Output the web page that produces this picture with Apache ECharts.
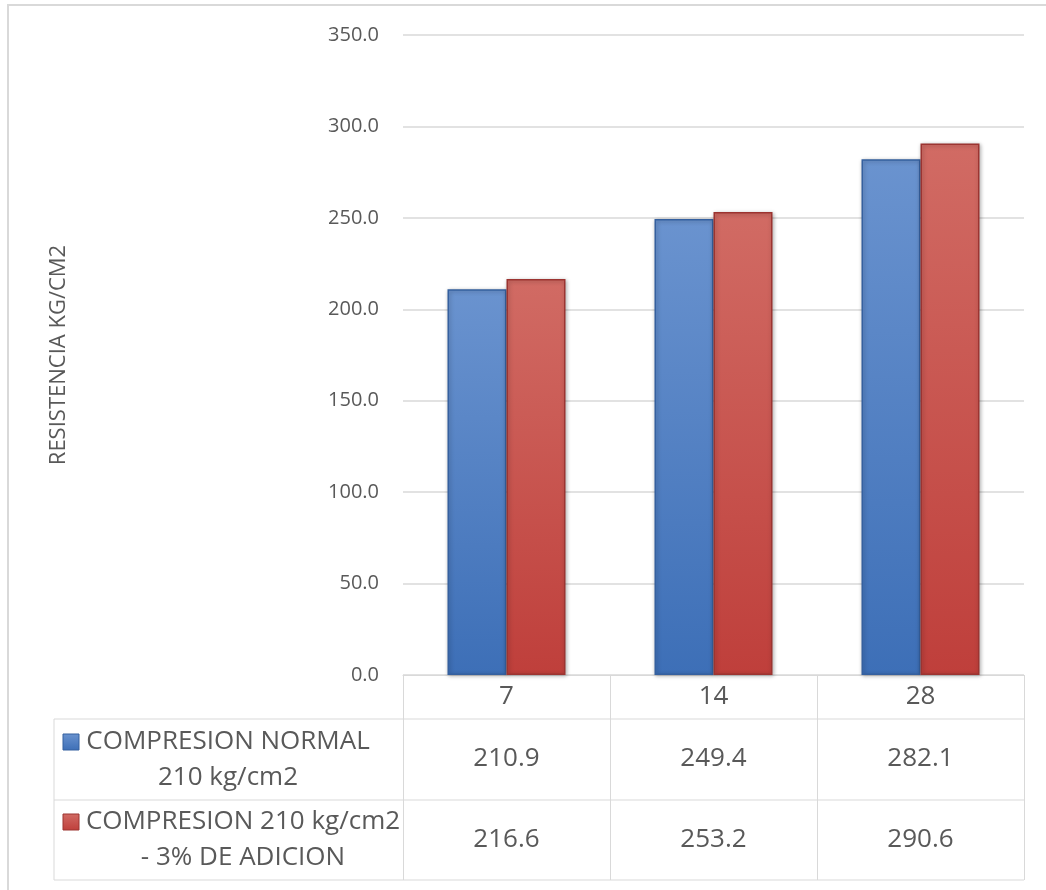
<!DOCTYPE html>
<html>
<head>
<meta charset="utf-8">
<script src="https://cdn.jsdelivr.net/npm/echarts@6/dist/echarts.min.js"></script>
<style>
  html, body { margin: 0; padding: 0; background: #fff; }
  #main { width: 1046px; height: 890px; }
</style>
</head>
<body>
<div id="main"></div>
<script>
// datos
var edades = ['7', '14', '28'];
var serieNombres = ['COMPRESION NORMAL\n210 kg/cm2', 'COMPRESION 210 kg/cm2\n- 3% DE ADICION'];
var compresionNormal = [210.9, 249.4, 282.1];
var compresionAdicion = [216.6, 253.2, 290.6];
var yTicks = [0, 50, 100, 150, 200, 250, 300, 350];

var FONT = 'Open Sans';
var GRIS = '#595959';
var LINEA = '#d9d9d9';

function grad(top, bottom) {
    return new echarts.graphic.LinearGradient(0, 0, 0, 1, [
        { offset: 0, color: top },
        { offset: 1, color: bottom }
    ]);
}
var azul = grad('#6a93cf', '#3d6fb7');
var rojo = grad('#d16b64', '#bf3f3b');

var fmt = function (v) { return Number(v).toFixed(1); };

var myChart = echarts.init(document.getElementById('main'));
var option = {
    animation: false,
    textStyle: { fontFamily: FONT },
    grid: { left: 403, right: 22, top: 35, bottom: 215 },
    xAxis: [
        {
            type: 'category',
            data: edades,
            axisLine: { show: true, lineStyle: { color: LINEA, width: 1 } },
            axisTick: { show: true, interval: 0, length: 205, lineStyle: { color: LINEA } },
            axisLabel: { margin: 22, verticalAlign: 'middle', color: GRIS, fontSize: 26, fontFamily: FONT }
        },
        {
            type: 'category',
            data: compresionNormal.map(fmt),
            position: 'bottom',
            axisLine: { show: false },
            axisTick: { show: false },
            axisLabel: { margin: 84, verticalAlign: 'middle', color: GRIS, fontSize: 26, fontFamily: FONT }
        },
        {
            type: 'category',
            data: compresionAdicion.map(fmt),
            position: 'bottom',
            axisLine: { show: false },
            axisTick: { show: false },
            axisLabel: { margin: 165, verticalAlign: 'middle', color: GRIS, fontSize: 26, fontFamily: FONT }
        }
    ],
    yAxis: {
        type: 'value',
        min: yTicks[0],
        max: yTicks[yTicks.length - 1],
        interval: 50,
        name: 'RESISTENCIA KG/CM2',
        nameLocation: 'middle',
        nameRotate: 90,
        nameGap: 333,
        nameTextStyle: { color: GRIS, fontSize: 22, fontFamily: FONT },
        axisLine: { show: false },
        axisTick: { show: false },
        axisLabel: { margin: 24, color: GRIS, fontSize: 20, fontFamily: FONT, formatter: fmt },
        splitLine: { lineStyle: { color: LINEA, width: 1.5 } }
    },
    series: [
        {
            name: serieNombres[0],
            type: 'bar',
            data: compresionNormal,
            barWidth: 59,
            barGap: '0%',
            itemStyle: {
                color: azul,
                borderColor: '#35609f',
                borderWidth: 1.5,
                shadowColor: 'rgba(0,0,0,0.3)',
                shadowBlur: 4,
                shadowOffsetX: 1,
                shadowOffsetY: 1
            }
        },
        {
            name: serieNombres[1],
            type: 'bar',
            data: compresionAdicion,
            barWidth: 59,
            barGap: '0%',
            itemStyle: {
                color: rojo,
                borderColor: '#9c3431',
                borderWidth: 1.5,
                shadowColor: 'rgba(0,0,0,0.3)',
                shadowBlur: 4,
                shadowOffsetX: 1,
                shadowOffsetY: 1
            }
        }
    ],
    graphic: [
        // marco exterior
        { type: 'rect', shape: { x: 8, y: 5, width: 1100, height: 1000 }, style: { fill: 'none', stroke: LINEA, lineWidth: 2 }, silent: true },
        // tabla de datos
        { type: 'line', shape: { x1: 54, y1: 719, x2: 1024, y2: 719 }, style: { stroke: LINEA, lineWidth: 1 } },
        { type: 'line', shape: { x1: 54, y1: 800, x2: 1024, y2: 800 }, style: { stroke: LINEA, lineWidth: 1 } },
        { type: 'line', shape: { x1: 54, y1: 880, x2: 1024, y2: 880 }, style: { stroke: LINEA, lineWidth: 1 } },
        { type: 'line', shape: { x1: 54, y1: 719, x2: 54, y2: 880 }, style: { stroke: LINEA, lineWidth: 1 } },
        // claves de leyenda
        { type: 'rect', shape: { x: 63, y: 734, width: 16, height: 16 }, style: { fill: azul, stroke: '#35609f', lineWidth: 1 } },
        { type: 'rect', shape: { x: 63, y: 814, width: 16, height: 16 }, style: { fill: rojo, stroke: '#9c3431', lineWidth: 1 } },
        {
            type: 'text', x: 228, y: 760,
            style: { text: serieNombres[0], fill: GRIS, font: '26px "Open Sans"', align: 'center', verticalAlign: 'middle', lineHeight: 36 }
        },
        {
            type: 'text', x: 243, y: 840,
            style: { text: serieNombres[1], fill: GRIS, font: '26px "Open Sans"', align: 'center', verticalAlign: 'middle', lineHeight: 36 }
        }
    ]
};
myChart.setOption(option);
</script>
</body>
</html>
